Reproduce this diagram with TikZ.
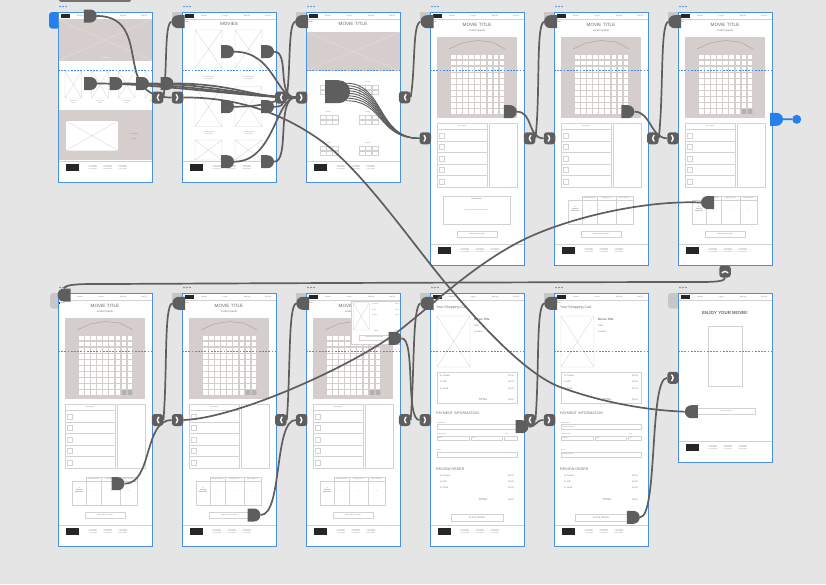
\documentclass[tikz,border=0pt]{standalone}
\usepackage{fontspec}
\setmainfont{Liberation Sans}
\usetikzlibrary{shapes.misc}
\definecolor{hintergrund}{RGB}{229,229,229}
\definecolor{xdblau}{RGB}{74,144,226}
\definecolor{heimblau}{RGB}{38,128,235}
\definecolor{kabel}{RGB}{94,94,94}
\definecolor{taupe}{RGB}{214,206,204}
\definecolor{schrift}{RGB}{120,120,120}

\pgfdeclarelayer{bretter}
\pgfdeclarelayer{kabel}
\pgfsetlayers{bretter,kabel,main}

% Platzhalterbild mit Kreuz
\newcommand{\kreuz}[4]{\draw[linie] (#1,#2) rectangle (#3,#4) (#1,#2) -- (#3,#4) (#1,#4) -- (#3,#2);}
% Kopfzeile
\newcommand{\kopf}{%
  \fill[black!85] (3,2) rectangle (12,5.5);
  \foreach \nx/\nt in {22/Movies,43/Log In,65/Sign Up,86/Cart (0)}
    \node[nav] at (\nx,4) {\nt};
  \draw[linie] (0,7.5) -- (94,7.5);
}
\newcommand{\zurueckknopf}{\fill[black!80] (1.2,9.4) rectangle +(1.2,1.2); \node[nav,anchor=west] at (2.6,10) {Back};}
% Fusszeile, #1 = Hoehe
\newcommand{\fuss}[1]{%
  \draw[linie] (0,#1-21) -- (94,#1-21);
  \fill[black!85] (8,#1-18) rectangle (21,#1-11);
  \foreach \sx in {35,50,65}
    \node[winzig,align=center] at (\sx,#1-14.5) {Lorem ipsum\\Lorem ipsum\\Lorem ipsum};
  \node[winzig] at (83,#1-18) {- - - -};
}
% Saal mit Sitzen, #1 = 1 fuer gewaehlte Sitze
\newcommand{\saal}[1]{%
  \node[titel] at (47,13) {MOVIE TITLE};
  \node[untertitel] at (47,19) {Lorem ipsum};
  \fill[taupe] (7,25) rectangle (87,106);
  \draw[gray!70, line width=0.5pt] (19,37) -- (32,31) -- (47,28.5) -- (62,30) -- (75,37);
  \foreach \i in {0,...,8}
    \foreach \j in {0,...,9}
      \fill[white] (21.2+6.05*\i,42.7+6.05*\j) rectangle +(4.7,4.7);
  \ifnum#1>0 \fill[gray!60] (21.2+6.05*7,42.7+6.05*9) rectangle +(4.7,4.7) (21.2+6.05*8,42.7+6.05*9) rectangle +(4.7,4.7);\fi
  % Legende
  \draw[linie] (7,111) rectangle (57,175) (59,111) rectangle (87,175);
  \node[winzig] at (32,114.2) {Seat Legend};
  \foreach \r in {117.5,129,140.5,152,163.5} {
    \draw[linie] (7,\r) -- (57,\r);
    \draw[linie] (9.5,\r+3.2) rectangle +(5,5);
  }
}
\newcommand{\warenknopf}{\draw[linie] (27,219) rectangle (67,225); \node[winzig] at (47,222) {ADD TICKETS TO CART};}
% Tickettabelle
\newcommand{\ticketwahl}{%
  \draw[linie] (14,188) rectangle (79,212) (28,184) rectangle (79,188);
  \foreach \sx in {28,43,62} \draw[linie] (\sx,184) -- (\sx,212);
  \foreach \sx/\st in {35.5/General Admission,52.5/Child (age 1-11),70.5/Senior (Age 65+)}
    \node[winzig] at (\sx,186) {\st};
  \node[winzig,font=\fontsize{1.5}{2.1}\selectfont\bfseries,align=center] at (21,197) {2\\TICKETS\\SELECTED};
  \foreach \sx/\a in {35.5/1,52.5/1,70.5/0} {
    \node[winzig] at (\sx,191) {+};
    \node[winzig] at (\sx,198.5) {\a};
    \node[winzig] at (\sx,207) {--};
  }
  \warenknopf
}
% Bestellposten
\newcommand{\posten}[4]{%
  \node[klein,anchor=west] at (10,#1) {2x Tickets}; \node[klein,anchor=east] at (84,#1) {\$2.00};
  \node[klein,anchor=west] at (10,#2) {1x Gift}; \node[klein,anchor=east] at (84,#2) {\$1.00};
  \node[klein,anchor=west] at (10,#3) {1x Child}; \node[klein,anchor=east] at (84,#3) {\$1.00};
  \node[untertitel] at (53,#4) {TOTAL}; \node[klein,anchor=east] at (84,#4) {\$3.00};
}
% Kasse: Karte, Monat, Jahr, CVV, Email
\newcommand{\kasse}[5]{%
  \node[mittel,anchor=west] at (6,14.7) {Your Shopping Cart};
  \kreuz{7}{23}{40}{74}
  \node[klein,anchor=west,font=\fontsize{3}{3.4}\selectfont\bfseries] at (44,26) {Movie Title};
  \node[klein,anchor=west] at (44,32.3) {Date};
  \node[klein,anchor=west] at (44,38.7) {Location};
  \draw[linie] (7,78.7) rectangle (87,109.7);
  \posten{82.7}{89}{95.3}{106.3}
  \node[mittel,anchor=west] at (6,120.3) {PAYMENT INFORMATION};
  \node[winzig,anchor=west] at (7,129.6) {Card Number};
  \draw[linie] (7,131.3) rectangle (87,136);
  \node[winzig,anchor=west] at (8,133.7) {#1};
  \node[winzig,anchor=west] at (7,141) {Expiration Date};
  \node[winzig,anchor=west] at (75,141) {CVV};
  \draw[linie] (7,142.7) rectangle (39.3,147) (41,142.7) rectangle (72.3,147) (74.3,142.7) rectangle (87,147);
  \node[winzig,anchor=west] at (8,144.9) {#2};
  \node[winzig,anchor=west] at (42,144.9) {#3};
  \node[winzig,anchor=west] at (75.3,144.9) {#4};
  \node[winzig,anchor=west] at (7,157) {Email};
  \draw[linie] (7,158.7) rectangle (87,163.7);
  \node[winzig,anchor=west] at (8,161.2) {#5};
  \node[mittel,anchor=west] at (6,176.3) {REVIEW ORDER};
  \posten{183}{189}{194.7}{207}
  \draw[linie] (20.7,221.3) rectangle (73.3,227.7);
  \node[klein] at (47,224.5) {PLACE ORDER};
  \fuss{253}
}

\begin{document}
\begin{tikzpicture}[x=1pt, y=-1pt,
    linie/.style={draw=gray!35, line width=0.3pt},
    nav/.style={font=\fontsize{1.8}{2}\selectfont, text=schrift, inner sep=0pt},
    winzig/.style={font=\fontsize{1.4}{1.7}\selectfont, text=schrift, inner sep=0pt},
    klein/.style={font=\fontsize{2.2}{2.6}\selectfont, text=schrift, inner sep=0pt},
    untertitel/.style={font=\fontsize{2.8}{3.2}\selectfont, text=black!55, inner sep=0pt},
    mittel/.style={font=\fontsize{3.6}{4}\selectfont, text=black!55, inner sep=0pt},
    titel/.style={font=\fontsize{4.6}{5}\selectfont, text=black!60, inner sep=0pt},
    stecker/.style={rounded rectangle, rounded rectangle left arc=none, fill=kabel, minimum width=10.5pt, minimum height=13pt, inner sep=0pt},
    steckerl/.style={rounded rectangle, rounded rectangle right arc=none, fill=kabel, minimum width=10.5pt, minimum height=13pt, inner sep=0pt},
    marke/.style={rectangle, rounded corners=3pt, fill=kabel, minimum width=11.5pt, minimum height=12pt, inner sep=0pt},
    vor/.style={marke, path picture={\draw[white,line width=1.4pt,line cap=round,line join=miter] ([xshift=-1.3pt,yshift=2.8pt]path picture bounding box.center) -- ++(2.6pt,-2.8pt) -- ++(-2.6pt,-2.8pt);}},
    zurueck/.style={marke, path picture={\draw[white,line width=1.4pt,line cap=round,line join=miter] ([xshift=1.3pt,yshift=2.8pt]path picture bounding box.center) -- ++(-2.6pt,-2.8pt) -- ++(2.6pt,-2.8pt);}},
    hoch/.style={marke, path picture={\draw[white,line width=1.4pt,line cap=round,line join=miter] ([xshift=-2.8pt,yshift=-1.3pt]path picture bounding box.center) -- ++(2.8pt,2.6pt) -- ++(2.8pt,-2.6pt);}},
    draht/.style={draw=kabel, line width=1.7pt}]
\useasboundingbox (0,0) rectangle (826,584);

\begin{pgfonlayer}{bretter}
% Hintergrund
\fill[hintergrund] (0,0) rectangle (826,584);
\fill[black!55, rounded corners=1.5pt] (59,-4) rectangle (131,1.8);
% Reiter links oben
\fill[heimblau, rounded corners=3pt] (49,12) rectangle (60,28.5);
\fill[black!22, rounded corners=3pt] (50,293) rectangle (60,308.5);
\fill[black!22, rounded corners=3pt] (668,293) rectangle (680,308.5);
\foreach \x/\y in {182/12,306/12,430/12,554/12,678/12,182/293,306/293,430/293,554/293}
  \fill[black!22] (\x-10,\y) rectangle (\x+1,\y+8);
% Bretter
\foreach \x/\y/\h in {58/12/170,182/12/170,306/12/170,430/12/253,554/12/253,678/12/253,58/293/253,182/293/253,306/293/253,430/293/253,554/293/253,678/293/169} {
  \fill[white] (\x,\y) rectangle +(94,\h);
  \foreach \d in {2,5,8} \fill[xdblau] (\x+\d,\y-5.5) circle (0.8pt);
}

% A1: Startseite
\begin{scope}[shift={(58,12)}]
  \clip (0,0) rectangle (94,170);
  \kopf
  \fill[taupe] (0,7.5) rectangle (94,48.7);
  \draw[taupe!60!white, line width=0.3pt] (0,7.5) -- (94,48.7) (0,48.7) -- (94,7.5);
  \foreach \d in {44,47,50} \fill[white] (\d,45.3) circle (0.6pt);
  \foreach \tx in {7,33.7,60.3,87} {
    \kreuz{\tx}{59.3}{\tx+16.7}{86}
    \node[winzig] at (\tx+8.3,88.7) {Lorem ipsum};
    \node[winzig] at (\tx+8.3,91.3) {Lorem};
  }
  \fill[taupe] (0,98) rectangle (94,148);
  \fill[white] (7.7,108.7) rectangle (60.3,138.7);
  \kreuz{7.7}{108.7}{60.3}{138.7}
  \node[winzig] at (76,122) {Lorem ipsum};
  \node[winzig] at (76,127) {Lorem};
  \fuss{170}
\end{scope}

% A2: Filme
\begin{scope}[shift={(182,12)}]
  \kopf \zurueckknopf
  \node[titel] at (47,12.3) {MOVIES};
  \foreach \sx in {13,53} {
    \kreuz{\sx}{18}{\sx+27}{56}
    \kreuz{\sx}{74.7}{\sx+27}{114.7}
    \kreuz{\sx}{128}{\sx+27}{148}
    \node[winzig,align=center] at (\sx+13.5,66.3) {Lorem ipsum dolor\\Lorem ipsum};
    \node[winzig,align=center] at (\sx+13.5,121.3) {Lorem ipsum dolor\\Lorem ipsum};
  }
  \fuss{170}
\end{scope}

% A3: Film mit Kinos
\begin{scope}[shift={(306,12)}]
  \kopf \zurueckknopf
  \node[titel] at (47,12.3) {MOVIE TITLE};
  \fill[taupe] (0,20) rectangle (94,59);
  \draw[taupe!60!white, line width=0.3pt] (0,20) -- (94,59) (0,59) -- (94,20);
  \foreach \sx in {14,53.3}
    \foreach \sy in {70,100,131} {
      \node[winzig] at (\sx+8.3,\sy) {Theatre};
      \foreach \i in {0,1,2}
        \foreach \j in {0,1}
          \draw[linie] (\sx+6.3*\i,\sy+3+5*\j) rectangle +(5.8,4.2);
    }
  \fuss{170}
\end{scope}

% A4: Sitzwahl, leer
\begin{scope}[shift={(430,12)}]
  \kopf \zurueckknopf \saal{0}
  \draw[linie] (13,184) rectangle (80,212);
  \node[winzig,font=\fontsize{1.5}{1.8}\selectfont\bfseries] at (46.5,187) {TICKETS BOX};
  \node[winzig] at (46.5,198) {Select your seats to view ticket options};
  \warenknopf
  \fuss{253}
\end{scope}

% A5, A6: Sitzwahl mit Tickets
\begin{scope}[shift={(554,12)}]
  \kopf \zurueckknopf \saal{0} \ticketwahl \fuss{253}
\end{scope}
\begin{scope}[shift={(678,12)}]
  \kopf \zurueckknopf \saal{1} \ticketwahl \fuss{253}
\end{scope}

% B1 - B3
\foreach \x in {58,182,306} {
  \begin{scope}[shift={(\x,293)}]
    \kopf \zurueckknopf \saal{1} \ticketwahl \fuss{253}
  \end{scope}
}
% Warenkorb-Fenster auf B3
\begin{scope}[shift={(306,293)}]
  \fill[white] (44.7,7.7) rectangle (94,51);
  \draw[linie] (44.7,7.7) rectangle (94,51);
  \kreuz{47.3}{9.7}{63.3}{37}
  \node[winzig,anchor=west] at (65.7,11.3) {2x Tickets}; \node[winzig,anchor=east] at (93,11.3) {\$2.00};
  \node[winzig,anchor=west] at (65.7,17) {1x Gift}; \node[winzig,anchor=east] at (93,17) {\$1.00};
  \node[winzig,anchor=west] at (65.7,22.3) {1x Child}; \node[winzig,anchor=east] at (93,22.3) {\$1.00};
  \node[winzig,anchor=west] at (68,37.7) {TOTAL}; \node[winzig,anchor=east] at (93,37.7) {\$3.00};
  \draw[linie] (53,42) rectangle (84,47);
  \node[winzig] at (68.5,44.5) {PROCEED TO CHECKOUT};
\end{scope}

% B4, B5: Kasse
\begin{scope}[shift={(430,293)}]
  \kopf \zurueckknopf \kasse{}{Month}{Year}{}{}
\end{scope}
\begin{scope}[shift={(554,293)}]
  \kopf \zurueckknopf \kasse{xxxxxxxxxxxx7890}{February}{2021}{xxx}{email@email.com}
\end{scope}

% B6: Bestaetigung
\begin{scope}[shift={(678,293)}]
  \kopf
  \node[titel,font=\fontsize{4.4}{5}\selectfont\bfseries] at (47,20.3) {ENJOY YOUR MOVIE!};
  \draw[linie] (30.3,32.7) rectangle (63.7,92.7);
  \draw[linie] (18.7,115.3) rectangle (77,121.3);
  \node[winzig] at (47.8,118.3) {View more Movies};
  \fuss{169}
\end{scope}

% Rahmen und Falzlinien
\foreach \x/\y/\h in {58/12/170,182/12/170,306/12/170,430/12/253,554/12/253,678/12/253,58/293/253,182/293/253,306/293/253,430/293/253,554/293/253,678/293/169} {
  \draw[xdblau, line width=0.6pt, dash pattern=on 1.8pt off 1.4pt] (\x,\y+58) -- +(94,0);
  \draw[xdblau, line width=0.8pt] (\x,\y) rectangle +(94,\h);
}
\end{pgfonlayer}

% Stecker
\node[stecker] (pA1nav) at (90.3,16) {};
\node[stecker] (pA1t1) at (90.5,83.5) {};
\node[stecker] (pA1t2) at (116,83.5) {};
\node[stecker] (pA1t3) at (142.5,83.5) {};
\node[stecker] (pA1t4) at (167,83.5) {};
\node[steckerl] (pA2back) at (178,21.7) {};
\node[stecker] (pA2m1) at (227.5,51.7) {};
\node[stecker] (pA2m2) at (267.5,51.7) {};
\node[stecker] (pA2m3) at (227.5,106.7) {};
\node[stecker] (pA2m4) at (267.5,106.7) {};
\node[stecker] (pA2m5) at (227.5,161.7) {};
\node[stecker] (pA2m6) at (267.5,161.7) {};
\node[steckerl] (pA3back) at (301.7,21.7) {};
\node[stecker, minimum width=25pt, minimum height=23pt] (pA3th) at (337.5,91.7) {};
\node[steckerl] (pA4back) at (427,21.7) {};
\node[stecker] (pA4seat) at (510.3,111.7) {};
\node[steckerl] (pA5back) at (550.5,21.7) {};
\node[stecker] (pA5seat) at (627.8,111.7) {};
\node[steckerl] (pA6back) at (674.7,21.7) {};
\node[steckerl] (pA6tix) at (707.5,202.5) {};
\node[steckerl] (pB1back) at (64,295) {};
\node[stecker] (pB1tix) at (118,483.7) {};
\node[steckerl] (pB2back) at (178.7,303.3) {};
\node[stecker] (pB2cart) at (254,515) {};
\node[steckerl] (pB3back) at (302.7,303.3) {};
\node[stecker] (pB3pop) at (395,338.3) {};
\node[steckerl] (pB4back) at (427,303.3) {};
\node[stecker] (pB4card) at (522,426.7) {};
\node[steckerl] (pB5back) at (550.7,303.3) {};
\node[stecker] (pB5order) at (633.3,517.3) {};
\node[steckerl] (pB6more) at (691.3,411.7) {};
\node[stecker, fill=heimblau] (bA6) at (776.5,119.3) {};
\node[circle, fill=heimblau, minimum size=9pt, inner sep=0pt] (bEnde) at (796.7,119.3) {};

% Sprungmarken
\node[zurueck] (zA1z) at (157.5,97.5) {};
\node[vor] (zA2v) at (177.5,97.5) {};
\node[zurueck] (zA2z) at (280.8,97.5) {};
\node[vor] (zA3v) at (301.7,97.5) {};
\node[zurueck] (zA3z) at (404.7,97.3) {};
\node[vor] (zA4v) at (425.3,138.3) {};
\node[zurueck] (zA4z) at (529.5,138.3) {};
\node[vor] (zA5v) at (549.5,138.3) {};
\node[zurueck] (zA5z) at (652.8,138.3) {};
\node[vor] (zA6v) at (673,138.3) {};
\node[hoch] (zA6h) at (725,271.5) {};
\node[zurueck] (zB1z) at (157.5,420) {};
\node[vor] (zB2v) at (177.5,420) {};
\node[zurueck] (zB2z) at (280.8,420) {};
\node[vor] (zB3v) at (301.7,420) {};
\node[zurueck] (zB3z) at (404.7,420) {};
\node[vor] (zB4v) at (425.3,420) {};
\node[zurueck] (zB4z) at (529.5,420) {};
\node[vor] (zB5v) at (549.5,420) {};
\node[vor] (zB6v) at (673,377.8) {};

\begin{pgfonlayer}{kabel}
% obere Reihe
\draw[draht] (pA1nav.east) .. controls (138,16) and (128,60) .. (140,82) .. controls (148,95) and (160,97.5) .. (zA2v.west);
\foreach \p in {pA1t1,pA1t2,pA1t3,pA1t4}
  \draw[draht] (\p.east) .. controls +(60,0) and +(-45,0) .. (zA3v.west);
\draw[draht] (pA2back.west) .. controls +(-7,3) and +(4,-30) .. (zA1z.east);
\foreach \p/\a in {pA2m1/40,pA2m2/16,pA2m3/40,pA2m4/16,pA2m5/40,pA2m6/16}
  \draw[draht] (\p.east) .. controls +(\a,0) and +(-20,0) .. (zA3v.west);
\draw[draht] (pA3back.west) .. controls +(-7,3) and +(4,-30) .. (zA2z.east);
\foreach \d in {-9,-6.5,-4,-1.5,1,3.5,6,8.5}
  \draw[kabel, line width=0.9pt] ([xshift=-4pt,yshift=\d pt]pA3th.east) .. controls +(38,0) and +(-42,0) .. (zA4v.west);
\draw[draht] (pA4back.west) .. controls +(-8,3) and +(5,-30) .. (zA3z.east);
\draw[draht] (pA4seat.east) .. controls +(16,0) and +(-16,0) .. (zA5v.west);
\draw[draht] (pA5back.west) .. controls +(-8,4) and +(5,-45) .. (zA4z.east);
\draw[draht] (pA5seat.east) .. controls +(16,0) and +(-16,0) .. (zA6v.west);
\draw[draht] (pA6back.west) .. controls +(-8,4) and +(5,-45) .. (zA5z.east);
\draw[heimblau, line width=1.7pt] (bA6) -- (bEnde);
% lange Kabel
\draw[draht] (pA6tix.west) .. controls (640,200) and (560,220) .. (517,243) .. controls (474,266) and (440,298) .. (400,330) .. controls (360,362) and (240,418) .. (zB2v.east);
\draw[draht] (pB6more.west) .. controls (640,410) and (595,400) .. (560,387) .. controls (525,374) and (476,320) .. (443,280) .. controls (410,240) and (360,168) .. (320,140) .. controls (285,115) and (240,97) .. (zA2v.east);
\draw[draht] (pB1back.north) .. controls +(1,-5) and +(-20,0) .. (110,284) .. controls (300,283) and (600,282) .. (700,282) .. controls (718,282) and (725,281) .. (zA6h.south);
% untere Reihe
\draw[draht] (pB1tix.east) .. controls +(28,0) and +(-28,0) .. (zB2v.west);
\draw[draht] (pB2back.west) .. controls +(-8,4) and +(4,-50) .. (zB1z.east);
\draw[draht] (pB2cart.east) .. controls +(22,0) and +(-22,0) .. (zB3v.west);
\draw[draht] (pB3back.west) .. controls +(-8,4) and +(4,-50) .. (zB2z.east);
\draw[draht] (pB3pop.east) .. controls +(14,0) and +(-14,0) .. (zB4v.west);
\draw[draht] (pB4back.west) .. controls +(-8,4) and +(4,-50) .. (zB3z.east);
\draw[draht] (pB4card.east) .. controls +(8,0) and +(-8,0) .. (zB5v.west);
\draw[draht] (pB5back.west) .. controls +(-8,4) and +(4,-50) .. (zB4z.east);
\draw[draht] (pB5order.east) .. controls +(18,0) and +(-18,0) .. (zB6v.west);
\end{pgfonlayer}
\end{tikzpicture}
\end{document}
